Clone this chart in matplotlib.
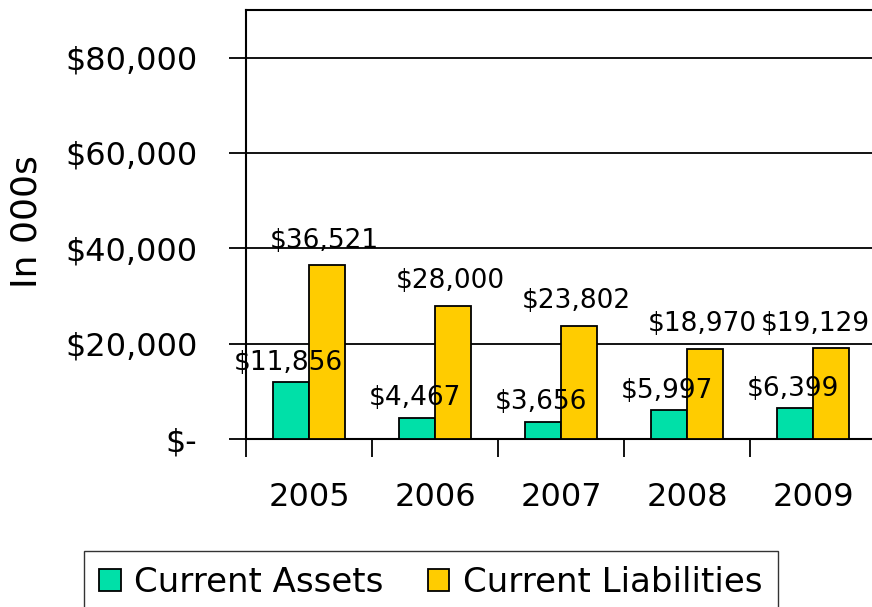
import numpy as np
import matplotlib.pyplot as plt
from matplotlib.ticker import FuncFormatter

years = ['2005', '2006', '2007', '2008', '2009']
assets = [11856, 4467, 3656, 5997, 6399]
liabilities = [36521, 28000, 23802, 18970, 19129]

green = '#00E0A8'
yellow = '#FFCC00'

fig = plt.figure(figsize=(8.72, 6.07), dpi=100)
ax = fig.add_axes([246/872, 168/607, 630/872, 429/607])

x = np.arange(len(years))
w = 0.286
b1 = ax.bar(x - w/2, assets, w, color=green, edgecolor='black', linewidth=1.3,
            label='Current Assets', zorder=3)
b2 = ax.bar(x + w/2, liabilities, w, color=yellow, edgecolor='black', linewidth=1.3,
            label='Current Liabilities', zorder=3)

ax.set_xlim(-0.5, len(years) - 0.5)
ax.set_ylim(0, 90000)

# data labels, a bit above each bar
labels = []
for bars, vals, off in ((b1, assets, 2600), (b2, liabilities, 3600)):
    for r, v in zip(bars, vals):
        t = ax.text(r.get_x() + r.get_width()/2 - 0.02, v + off, '${:,}'.format(v),
                    ha='center', va='baseline', fontsize=19, zorder=4)
        labels.append(t)

ax.set_yticks(np.arange(0, 90000, 20000))
ax.yaxis.set_major_formatter(FuncFormatter(lambda v, p: '$-' if v == 0 else '${:,.0f}'.format(v)))
ax.grid(axis='y', color='black', linewidth=1.3, zorder=0)

ax.set_xticks(x)
ax.set_xticklabels(years)
ax.set_xticks(np.arange(-0.5, len(years)), minor=True)
ax.tick_params(axis='x', which='major', length=0, pad=31, labelsize=23)
ax.tick_params(axis='x', which='minor', length=13, width=1.3, direction='out')
ax.tick_params(axis='y', length=12, width=1.3, direction='out', pad=23, labelsize=23)

for s in ('left', 'top', 'bottom'):
    ax.spines[s].set_linewidth(1.5)
ax.spines['right'].set_visible(False)

ax.set_ylabel('In 000s', fontsize=26)
ax.yaxis.set_label_coords(-0.322, 0.506)

fig.legend(loc='upper left', bbox_to_anchor=(84/872, 1 - 551/607), ncol=2,
           fontsize=24.5, frameon=True, fancybox=False, edgecolor='black',
           handlelength=0.63, handleheight=0.63, handletextpad=0.4,
           columnspacing=1.3, borderpad=0.45, borderaxespad=0)

# keep the right-most label inside the picture
fig.canvas.draw()
r = fig.canvas.get_renderer()
for t in labels:
    bb = t.get_window_extent(r)
    if bb.x1 > fig.bbox.width - 2:
        dx = (bb.x1 - fig.bbox.width + 2) / ax.bbox.width * 5
        t.set_x(t.get_position()[0] - dx)

fig.savefig('out.png', dpi=100)
